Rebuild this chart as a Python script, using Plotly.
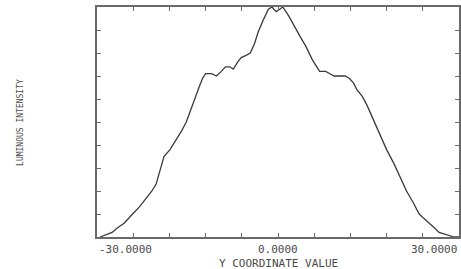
import plotly.graph_objects as go

# profile data
y_coord = [-29.5, -28.5, -27.5, -26.6, -25.5, -24.1, -23.0, -21.8, -20.9, -20.2, -19.5, -18.9,
           -17.9, -16.9, -16.0, -15.2, -14.5, -13.9, -13.1, -12.5, -12.0, -11.0, -10.2, -9.4,
           -8.7, -8.0, -7.4, -6.7, -6.1, -5.3, -4.6, -3.9, -3.3, -2.5, -1.6, -1.0, -0.3, 0.3,
           0.8, 1.8, 2.8, 3.7, 4.6, 5.7, 6.9, 7.9, 8.6, 9.3, 10.3, 11.1, 11.8, 12.5, 13.1,
           14.0, 14.8, 15.8, 16.7, 18.0, 19.2, 20.3, 21.3, 22.4, 23.4, 24.2, 25.1, 25.9, 26.7,
           27.8, 29.2, 30.0]
intensity = [0.00, 0.01, 0.02, 0.04, 0.06, 0.10, 0.13, 0.17, 0.20, 0.23, 0.29, 0.35,
             0.38, 0.42, 0.46, 0.50, 0.55, 0.60, 0.65, 0.69, 0.71, 0.71, 0.70, 0.72,
             0.74, 0.74, 0.73, 0.76, 0.78, 0.79, 0.80, 0.84, 0.89, 0.94, 0.99, 1.00, 0.98, 0.99,
             1.00, 0.96, 0.91, 0.87, 0.83, 0.77, 0.72, 0.72, 0.71, 0.70, 0.70, 0.70, 0.69, 0.67, 0.64,
             0.61, 0.57, 0.51, 0.45, 0.38, 0.32, 0.26, 0.20, 0.15, 0.10, 0.08, 0.06, 0.04, 0.02,
             0.01, 0.00, 0.00]
x_tick_values = [-30, 0, 30]
x_tick_labels = ["-30.0000", "0.0000", "30.0000"]
x_title = "Y COORDINATE VALUE"
y_title = "LUMINOUS INTENSITY"

fig = go.Figure()
fig.add_trace(go.Scatter(x=y_coord, y=intensity, mode="lines",
                         line=dict(color="#3a3a3a", width=1.3), showlegend=False,
                         hoverinfo="skip"))

frame = "#6a6a6a"
fig.update_xaxes(range=[-30, 30], dtick=6, tick0=-30, ticks="inside", ticklen=4,
                 tickcolor=frame, showticklabels=False, showgrid=False, zeroline=False,
                 showline=True, linecolor=frame, linewidth=2, mirror="ticks")
fig.update_yaxes(range=[0, 1], dtick=0.1, tick0=0, ticks="inside", ticklen=4,
                 tickcolor=frame, showticklabels=False, showgrid=False, zeroline=False,
                 showline=True, linecolor=frame, linewidth=2, mirror="ticks")

font = dict(family="DejaVu Sans Mono", color="#4a4a4a")
anchors = ["left", "center", "right"]
for v, t, a in zip(x_tick_values, x_tick_labels, anchors):
    fig.add_annotation(x=v, xref="x", y=-0.017, yref="paper", text=t, showarrow=False,
                       xanchor=a, yanchor="top", font=dict(size=11, **font))
fig.add_annotation(x=0, xref="x", y=-0.08, yref="paper", text=x_title, showarrow=False,
                   xanchor="center", yanchor="top", font=dict(size=11, **font))
fig.add_annotation(x=-0.213, xref="paper", y=0.5, yref="paper",
                   text=y_title, showarrow=False, textangle=-90,
                   xanchor="center", yanchor="middle", font=dict(size=8, **font))

fig.update_layout(width=461, height=269, margin=dict(l=97, r=0, t=7, b=32),
                  paper_bgcolor="white", plot_bgcolor="white", hovermode=False)
fig.write_html("out.html", config={"displayModeBar": False, "staticPlot": True},
               post_script="document.body.style.margin='0';document.body.style.padding='0';")
